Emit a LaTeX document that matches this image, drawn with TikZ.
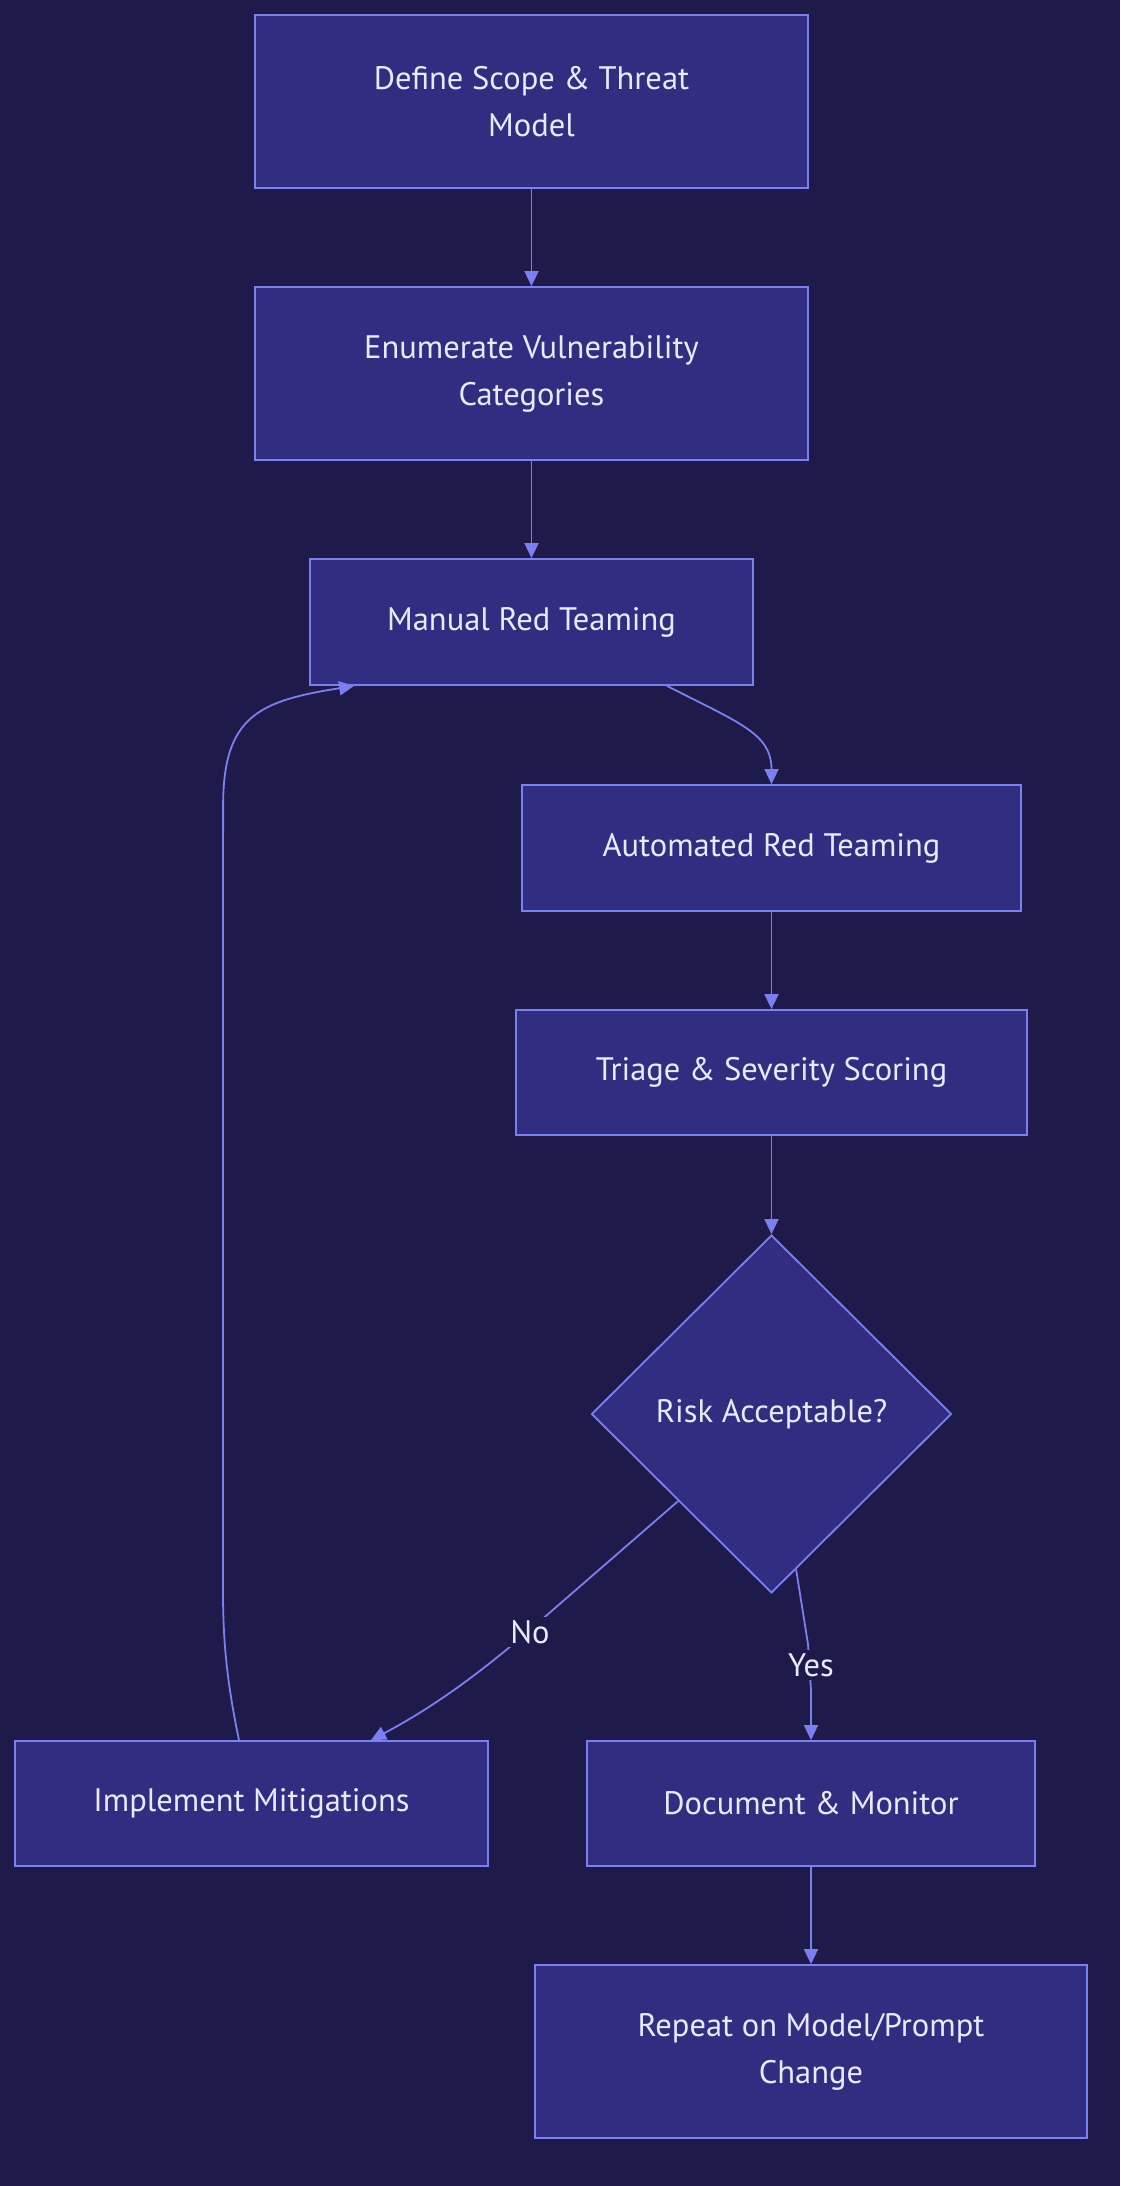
\documentclass[tikz,border=0pt]{standalone}
\usepackage{fontspec}
\setmainfont{PT Sans}
\usetikzlibrary{shapes.geometric,arrows.meta,calc}
\definecolor{bgc}{HTML}{1E1B4B}
\definecolor{fillc}{HTML}{312E81}
\definecolor{linec}{HTML}{7B80F0}
\definecolor{textc}{HTML}{E6EBFF}
\begin{document}
\begin{tikzpicture}[x=1pt,y=-1pt,
  box/.style={draw=linec,fill=fillc,line width=1.8pt,text=textc,font=\fontsize{32.5}{47}\selectfont,align=center,inner sep=0pt},
  dia/.style={diamond,draw=linec,fill=fillc,line width=1.8pt,text=textc,font=\fontsize{32.5}{47}\selectfont,inner sep=0pt,minimum width=360pt,minimum height=358pt},
  conn/.style={draw=linec,line width=1.8pt,-{Triangle[length=15pt,width=14pt]}},
  lbl/.style={fill=bgc,text=textc,font=\fontsize{32.5}{38}\selectfont,inner sep=3pt}]
\fill[bgc] (0,0) rectangle (1120,2186);
\useasboundingbox (0,0) rectangle (1120,2186);

\node[box,minimum width=553pt,minimum height=173pt] (define) at (531.5,101.5) {Define Scope \& Threat\\Model};
\node[box,minimum width=553pt,minimum height=173pt] (enum) at (531.5,373.5) {Enumerate Vulnerability\\Categories};
\node[box,minimum width=443pt,minimum height=126pt] (manual) at (531.5,622) {Manual Red Teaming};
\node[box,minimum width=499pt,minimum height=126pt] (auto) at (771.5,848) {Automated Red Teaming};
\node[box,minimum width=511pt,minimum height=125pt] (triage) at (771.5,1072.5) {Triage \& Severity Scoring};
\node[dia] (risk) at (771.5,1414) {Risk Acceptable?};
\node[box,minimum width=473pt,minimum height=125pt] (impl) at (251.5,1803.5) {Implement Mitigations};
\node[box,minimum width=448pt,minimum height=125pt] (doc) at (811,1803.5) {Document \& Monitor};
\node[box,minimum width=552pt,minimum height=173pt] (rep) at (811,2051.5) {Repeat on Model/Prompt\\Change};

\draw[conn] (define) -- (enum);
\draw[conn] (enum) -- (manual);
\draw[conn] ($(manual.south)+(135.5,0)$) .. controls ($(manual.south)+(210,38)$) and ($(auto.north)+(0,-50)$) .. (auto.north);
\draw[conn] (auto) -- (triage);
\draw[conn] (triage) -- (risk);
\draw[conn] (risk.223) -- ($(impl.north)+(288.5,-119)$) .. controls ($(impl.north)+(228.5,-66)$) and ($(impl.north)+(178.5,-31)$) .. ($(impl.north)+(119.5,0)$);
\node[lbl] (nolbl) at (530,1632) {No};
\draw[conn] (risk.279) -- ($(doc.north)+(-3,-96)$) -- ($(doc.north)+(0,-50)$) -- (doc.north);
\node[lbl] (yeslbl) at (811,1665) {Yes};
\draw[conn] (doc) -- (rep);
\draw[conn] ($(impl.north)+(-12.5,0)$) .. controls ($(impl.north)+(-25,-60)$) and ($(impl.north)+(-28.5,-100)$) .. ($(impl.north)+(-28.5,-150)$) -- ($(manual.south west)+(-86,120)$) .. controls ($(manual.south west)+(-86,30)$) and ($(manual.south west)+(-50,15)$) .. ($(manual.south west)+(45,0)$);
\end{tikzpicture}
\end{document}
